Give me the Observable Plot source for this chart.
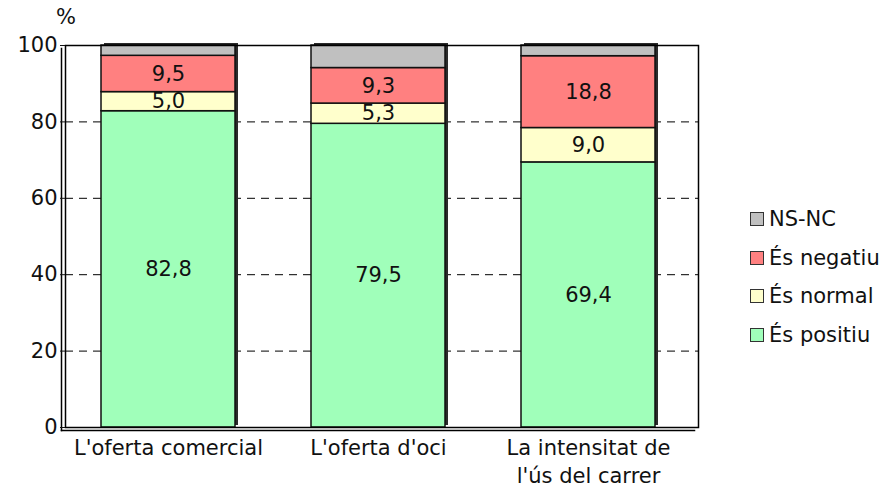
<!DOCTYPE html>
<html>
<head>
<meta charset="utf-8">
<script src="https://cdn.jsdelivr.net/npm/d3@7"></script>
<script src="https://cdn.jsdelivr.net/npm/@observablehq/plot@0.6"></script>
<style>
  body { margin: 0; background: #fff; font-family: "DejaVu Sans", Verdana, sans-serif; }
  #wrap { position: relative; width: 892px; height: 487px; }
  #pct { position: absolute; left: 56px; top: 5px; font-size: 21px; color: #111; }
  #legend { position: absolute; left: 750px; top: 200px; font-size: 21px; color: #111; }
  .row { display: flex; align-items: center; height: 38.5px; }
  .sw { width: 12px; height: 12px; border: 1.5px solid #333; margin-right: 5px; }
</style>
</head>
<body>
<div id="wrap">
  <div id="chart"></div>
  <div id="pct">%</div>
  <div id="legend"></div>
</div>
<script>
const categories = ["L'oferta comercial", "L'oferta d'oci", "La intensitat de\nl'ús del carrer"];
const series = ["És positiu", "És normal", "És negatiu", "NS-NC"];
const colors = ["#A0FFBA", "#FFFFCC", "#FF8080", "#C0C0C0"];
const positiu = [82.8, 79.5, 69.4];
const normal = [5.0, 5.3, 9.0];
const negatiu = [9.5, 9.3, 18.8];
const nsnc = [2.7, 5.9, 2.8];
const yTicks = [0, 20, 40, 60, 80, 100];
const gridTicks = [20, 40, 60, 80];

const valuesBySeries = [positiu, normal, negatiu, nsnc];
const data = [];
series.forEach((s, i) => categories.forEach((c, j) => data.push({cat: c, series: s, value: valuesBySeries[i][j]})));
const totals = categories.map((c, j) => ({cat: c, value: valuesBySeries.reduce((a, v) => a + v[j], 0)}));
const fmt = v => v.toFixed(1).replace(".", ",");

const chart = Plot.plot({
  width: 892,
  height: 487,
  marginLeft: 65,
  marginRight: 194,
  marginTop: 45,
  marginBottom: 60,
  style: {fontFamily: "DejaVu Sans, Verdana, sans-serif", fontSize: "21px", color: "#111", background: "white", overflow: "visible"},
  x: {domain: categories, paddingInner: 0.363, paddingOuter: 0.185, align: 0.45, label: null},
  y: {domain: [0, 100], label: null},
  color: {domain: series, range: colors},
  marks: [
    Plot.ruleY(gridTicks, {stroke: "#000", strokeDasharray: "8,6", strokeWidth: 1}),
    Plot.barY(totals, {x: "cat", y: "value", fill: "#2a2a2a", dx: 3, dy: -2}),
    Plot.barY(data, {x: "cat", y: "value", fill: "series", stroke: "#111", strokeWidth: 1.5, order: series}),
    Plot.text(data, Plot.stackY({x: "cat", y: "value", z: "series", order: series,
      text: d => d.series === "NS-NC" ? "" : fmt(d.value), fontSize: 21, fill: "#111"})),
    Plot.frame({stroke: "#000", strokeWidth: 1.5}),
    Plot.frame({anchor: "left", dx: -4, dy: 3, stroke: "#000", strokeWidth: 1.5}),
    Plot.frame({anchor: "bottom", dx: -4, dy: 3, stroke: "#000", strokeWidth: 1.5}),
    Plot.axisY({ticks: yTicks, tickSize: 5, tickPadding: 3, fontSize: 21, label: null, anchor: "left"}),
    Plot.axisX({tickSize: 0, tickPadding: 7, fontSize: 21, lineHeight: 1.35, label: null})
  ]
});
document.getElementById("chart").appendChild(chart);

const legend = document.getElementById("legend");
[...series].reverse().forEach(s => {
  const row = document.createElement("div");
  row.className = "row";
  const sw = document.createElement("div");
  sw.className = "sw";
  sw.style.background = colors[series.indexOf(s)];
  row.appendChild(sw);
  const t = document.createElement("span");
  t.textContent = s;
  row.appendChild(t);
  legend.appendChild(row);
});
</script>
</body>
</html>
